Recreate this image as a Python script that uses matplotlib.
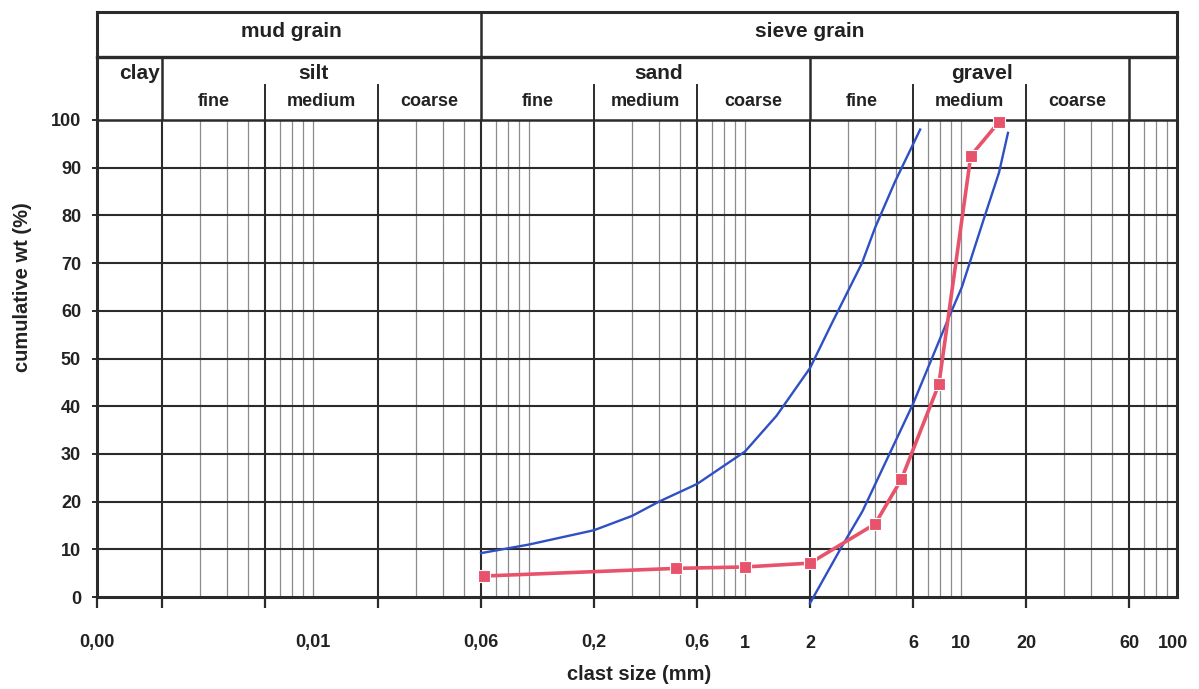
import numpy as np
import matplotlib.pyplot as plt
from matplotlib.ticker import FixedLocator, FixedFormatter, NullFormatter

plt.rcParams['font.family'] = ['Liberation Sans', 'DejaVu Sans']
plt.rcParams['font.weight'] = 'bold'
plt.rcParams['axes.labelweight'] = 'bold'

# cumulative curves (clast size in mm, cumulative wt in %)
size_a = [0.06, 0.1, 0.2, 0.3, 0.4, 0.6, 1.0, 1.4, 2.0, 2.5, 3.48, 4.0, 4.94, 6.47]
cum_a = [9.2, 11.0, 14.0, 17.0, 20.0, 23.7, 30.5, 38.0, 48.0, 57.0, 70.0, 77.4, 87.0, 98.0]

size_b = [2.0, 2.8, 3.5, 6.0, 8.8, 10.1, 12.7, 15.0, 16.5]
cum_b = [-1.3, 10.5, 18.0, 40.5, 58.7, 65.0, 79.0, 89.0, 97.3]

size_s = [0.062, 0.48, 1.0, 2.0, 4.0, 5.3, 7.9, 11.1, 15.0]
cum_s = [4.4, 6.0, 6.3, 7.1, 15.3, 24.7, 44.6, 92.5, 99.6]

# grain class boundaries (mm)
class_bounds = [0.002, 0.006, 0.02, 0.06, 0.2, 0.6, 2, 6, 20, 60]
main_bounds = [0.002, 0.06, 2, 60]
sub_bounds = [0.006, 0.02, 0.2, 0.6, 6, 20]
fine_mult = [3, 4, 5, 7, 8, 9, 10]
decades = [0.001, 0.01, 0.1, 1, 10]
x_min, x_max = 0.001, 100

tick_pos = [0.001, 0.01, 0.06, 0.2, 0.6, 1, 2, 6, 10, 20, 60, 96]
tick_lab = ['0,00', '0,01', '0,06', '0,2', '0,6', '1', '2', '6', '10', '20', '60', '100']
y_ticks = list(range(0, 101, 10))

top_names = ['mud grain', 'sieve grain']
top_x = [0.0079, 2.0]
class_names = ['clay', 'silt', 'sand', 'gravel']
class_x = [0.00158, 0.0101, 0.40, 12.5]
sub_names = ['fine', 'medium', 'coarse'] * 3
sub_ranges = [(0.002, 0.006), (0.006, 0.02), (0.02, 0.06),
              (0.06, 0.2), (0.2, 0.6), (0.6, 2),
              (2, 6), (6, 20), (20, 60)]

dark = '#2b2b2b'
gray = '#8c8c8c'
blue = '#2f4fc4'
red = '#e8536c'
txt = '#222222'

W, H = 1199, 689
fig = plt.figure(figsize=(W / 100, H / 100), dpi=100)
ax = fig.add_axes([97 / W, (H - 597) / H, 1080 / W, 477 / H])
hdr = fig.add_axes([97 / W, (H - 120) / H, 1080 / W, 108 / H], sharex=ax)

ax.set_xscale('log')
ax.set_xlim(x_min, x_max)
ax.set_ylim(0, 100)

# fine grid lines
fine_lines = [d * m for d in decades for m in fine_mult if d * m < x_max]
ax.vlines(fine_lines, 0, 100, color=gray, lw=0.9, zorder=1)
# class boundaries and horizontal grid
for b in class_bounds:
    ax.axvline(b, color=dark, lw=1.5, zorder=2)
for y in y_ticks[1:-1]:
    ax.axhline(y, color=dark, lw=1.5, zorder=2)

# curves
ax.plot(size_a, cum_a, color=blue, lw=1.7, zorder=4, clip_on=False)
ax.plot(size_b, cum_b, color=blue, lw=1.7, zorder=4, clip_on=False)
ax.plot(size_s, cum_s, color=red, lw=2.6, marker='s', ms=8.5,
        mfc=red, mec='white', mew=0.8, zorder=5, clip_on=False)

for s in ['left', 'bottom', 'right']:
    ax.spines[s].set_linewidth(2.2)
    ax.spines[s].set_color(dark)
ax.spines['top'].set_linewidth(1.8)
ax.spines['top'].set_color(dark)

# ticks: marks at class boundaries, labels at nominal sizes
ax.xaxis.remove_overlapping_locs = False
ax.xaxis.set_major_locator(FixedLocator([x_min] + class_bounds))
ax.xaxis.set_major_formatter(NullFormatter())
ax.xaxis.set_minor_locator(FixedLocator(tick_pos))
ax.xaxis.set_minor_formatter(FixedFormatter(tick_lab))
ax.tick_params(axis='x', which='major', length=8, width=1.6, color=dark)
ax.tick_params(axis='x', which='minor', length=0, pad=27, labelsize=13,
               labelcolor=txt)
ax.set_yticks(y_ticks)
ax.tick_params(axis='y', length=3.5, width=1.4, color=dark, pad=8,
               labelsize=13, labelcolor=txt)

ax.set_xlabel('clast size (mm)', fontsize=14.5, color=txt)
ax.xaxis.set_label_coords(0.502, -0.143)
ax.set_ylabel('cumulative wt (%)', fontsize=14.5, color=txt)
ax.yaxis.set_label_coords(-0.060, 0.65)

# header table
hdr.set_ylim(0, 1)
hdr.axis('off')
row = 0.583
sub_top = 0.324
hdr.axhline(1, color=dark, lw=2.2, clip_on=False)
hdr.axhline(row, color=dark, lw=2.4, clip_on=False)
for xb in [x_min, x_max]:
    hdr.axvline(xb, color=dark, lw=2.2, clip_on=False)
hdr.axvline(0.06, ymin=row, ymax=1, color=dark, lw=1.8)
for b in main_bounds:
    hdr.axvline(b, ymin=0, ymax=row, color=dark, lw=1.8)
for b in sub_bounds:
    hdr.axvline(b, ymin=0, ymax=sub_top, color=dark, lw=1.4)

for name, xc in zip(top_names, top_x):
    hdr.text(xc, 0.815, name, ha='center', va='center', fontsize=15,
             color=txt)
for name, xc in zip(class_names, class_x):
    hdr.text(xc, 0.435, name, ha='center', va='center', fontsize=15,
             color=txt)
for name, (lo, hi) in zip(sub_names, sub_ranges):
    hdr.text(np.sqrt(lo * hi), 0.17, name, ha='center', va='center',
             fontsize=13, color=txt)

fig.savefig('out.png', dpi=100)
